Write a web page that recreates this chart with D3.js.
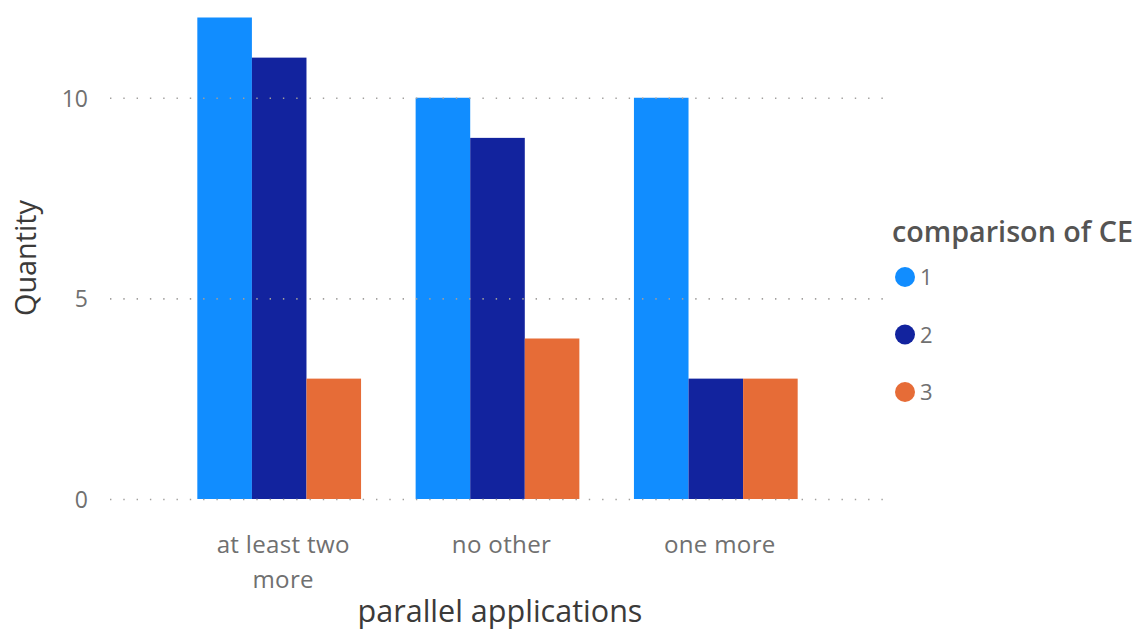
<!DOCTYPE html>
<html>
<head>
<meta charset="utf-8">
<script src="https://cdn.jsdelivr.net/npm/d3@7"></script>
<style>
  html, body { margin: 0; padding: 0; background: #fff; }
  svg { display: block; font-family: "Open Sans", "Noto Sans", sans-serif; }
</style>
</head>
<body>
<svg id="chart" width="1142" height="632"></svg>
<script>
// Categories on the x axis (parallel applications)
const categories = ["at least two more", "no other", "one more"];
// Series keys (comparison of CE)
const seriesKeys = ["1", "2", "3"];
// Quantity per series, in category order
const series1 = [12, 10, 10];
const series2 = [11, 9, 3];
const series3 = [3, 4, 3];
const yTicks = [0, 5, 10];
const colors = ["#118DFF", "#12239E", "#E66C37"];

const seriesValues = [series1, series2, series3];
const rows = categories.map((c, i) => ({
  category: c,
  values: seriesKeys.map((k, j) => ({ key: k, value: seriesValues[j][i] }))
}));

const svg = d3.select("#chart");

const x0 = d3.scaleBand().domain(categories).range([110, 885])
  .paddingInner(0.25).paddingOuter(0.4);
const x1 = d3.scaleBand().domain(seriesKeys).range([0, x0.bandwidth()]);
const y = d3.scaleLinear().domain([0, 12]).range([499, 17.5]);
const color = d3.scaleOrdinal().domain(seriesKeys).range(colors);

// Bars
const groups = svg.append("g").selectAll("g").data(rows).join("g")
  .attr("transform", d => `translate(${x0(d.category)},0)`);
groups.selectAll("rect").data(d => d.values).join("rect")
  .attr("x", d => x1(d.key))
  .attr("width", x1.bandwidth())
  .attr("y", d => y(d.value))
  .attr("height", d => y(0) - y(d.value))
  .attr("fill", d => color(d.key));

// Dotted gridlines with tick labels
const yAxis = svg.append("g").attr("transform", "translate(110,0)")
  .call(d3.axisLeft(y).tickValues(yTicks).tickSize(-775).tickPadding(22));
yAxis.select(".domain").remove();
yAxis.selectAll(".tick line")
  .attr("stroke", "#A19F9D").attr("stroke-width", 1.6)
  .attr("stroke-dasharray", "1.4,11.9").attr("stroke-linecap", "butt");
yAxis.selectAll(".tick text")
  .attr("fill", "#707070").attr("font-size", 23)
  .attr("dy", "0.36em")
  .attr("font-family", "'Open Sans', sans-serif");

// Helper: fit text to a given width by adjusting font size
function fit(sel, width) {
  const node = sel.node();
  const fs = parseFloat(sel.attr("font-size"));
  const w = node.getComputedTextLength();
  if (w > 0) sel.attr("font-size", fs * width / w);
  return sel;
}

// Category labels
const xLabels = svg.append("g").attr("fill", "#707070");
const wrapped = { "at least two more": ["at least two", "more"] };
categories.forEach(c => {
  const lines = wrapped[c] || [c];
  const cx = x0(c) + x0.bandwidth() / 2 + 4;
  lines.forEach((ln, i) => {
    xLabels.append("text")
      .attr("x", cx).attr("y", 553 + i * 35)
      .attr("text-anchor", "middle").attr("font-size", 19)
      .attr("letter-spacing", 0.3)
      .text(ln);
  });
});
// Scale category labels so "no other" is about 100px wide
(function () {
  const ref = xLabels.selectAll("text").filter(function () { return this.textContent === "no other"; });
  const w = ref.node().getComputedTextLength();
  const fs = 19 * 100 / w;
  xLabels.selectAll("text").attr("font-size", fs);
})();

// Axis titles
fit(svg.append("text")
  .attr("x", 500).attr("y", 622).attr("text-anchor", "middle")
  .attr("fill", "#3b3a39").attr("font-size", 22)
  .text("parallel applications"), 285);

fit(svg.append("text")
  .attr("transform", "translate(36,258) rotate(-90)")
  .attr("text-anchor", "middle")
  .attr("fill", "#3b3a39").attr("font-size", 22)
  .text("Quantity"), 116);

// Legend
const legend = svg.append("g");
fit(legend.append("text")
  .attr("x", 892).attr("y", 242)
  .attr("fill", "#555453").attr("font-weight", 600).attr("font-size", 21)
  .text("comparison of CE"), 241);

const legendY = d3.scalePoint().domain(seriesKeys).range([277, 392]);
const items = legend.selectAll("g.item").data(seriesKeys).join("g")
  .attr("class", "item")
  .attr("transform", d => `translate(905,${legendY(d)})`);
items.append("circle").attr("r", 10).attr("fill", d => color(d));
items.append("text")
  .attr("x", 15).attr("y", 8)
  .attr("fill", "#707070").attr("font-size", 22)
  .text(d => d);
</script>
</body>
</html>
